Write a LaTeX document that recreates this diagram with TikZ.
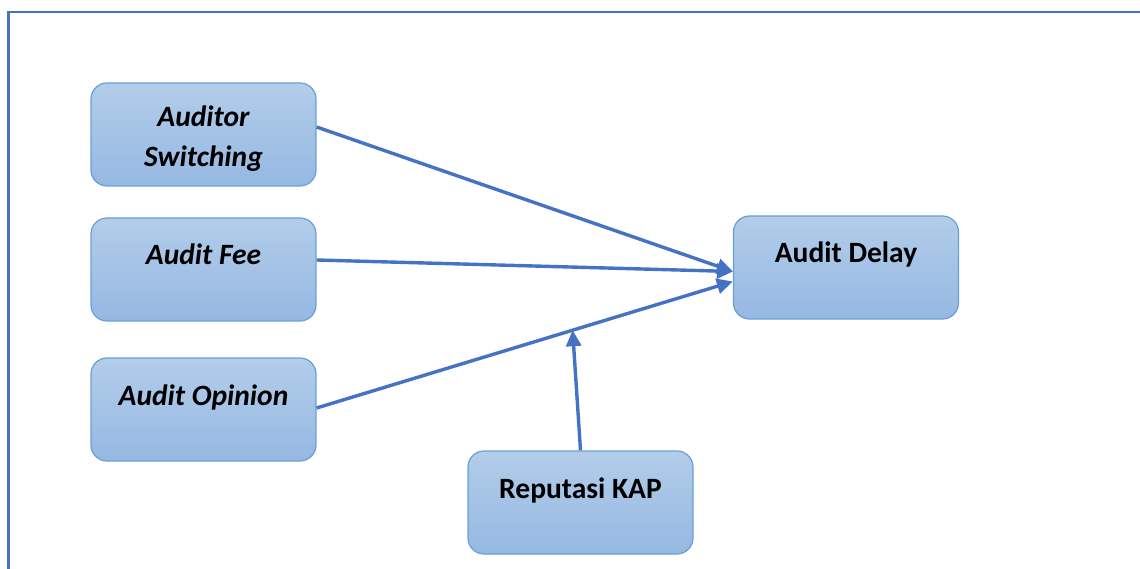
\documentclass[tikz,border=0pt]{standalone}
\usepackage{fontspec}
\setmainfont{Carlito}
\usetikzlibrary{arrows.meta}
\definecolor{frameblue}{HTML}{4472C4}
\definecolor{boxtop}{HTML}{B3CDEA}
\definecolor{boxbot}{HTML}{95B8E2}
\definecolor{boxline}{HTML}{6A9FD6}
\newcommand{\boxtext}[2][-7.5pt]{\raisebox{#1}[\height][\depth]{\begin{tabular}{@{}c@{}}#2\end{tabular}}}
\begin{document}
\begin{tikzpicture}[x=1pt,y=-1pt,
  box/.style={draw=boxline, line width=1.2pt, rounded corners=16pt,
    top color=boxtop, bottom color=boxbot,
    minimum width=225pt, minimum height=103pt, inner sep=0pt,
    font=\fontsize{29.5}{40}\selectfont\bfseries},
  conn/.style={draw=frameblue, line width=3.4pt, -{Triangle[length=16pt,width=15pt]}}]
\useasboundingbox (0,0) rectangle (1140,569);
\draw[frameblue, line width=2.5pt] (1140,12) -- (8.5,12) -- (8.5,569);

\node[box] (as) at (203.5,134.5) {\boxtext[-4.5pt]{\itshape Auditor\\\itshape Switching}};
\node[box] (af) at (203.5,269.5) {\boxtext{\itshape Audit Fee\\\mbox{}}};
\node[box] (ao) at (203.5,409.5) {\boxtext{\itshape Audit Opinion\\\mbox{}}};
\node[box] (ad) at (846,267.5) {\boxtext{Audit Delay\\\mbox{}}};
\node[box] (rk) at (580.5,502.5) {\boxtext{Reputasi KAP\\\mbox{}}};

\draw[conn] ([yshift=7.5pt]as.east) -- ([yshift=-4pt]ad.west);
\draw[conn] ([yshift=9.5pt]af.east) -- ([yshift=-4pt]ad.west);
\draw[conn] ([yshift=1.5pt]ao.east) -- ([yshift=-14pt]ad.west) coordinate[pos=0.615] (m);
\draw[conn] (rk.north) -- (m);
\end{tikzpicture}
\end{document}
